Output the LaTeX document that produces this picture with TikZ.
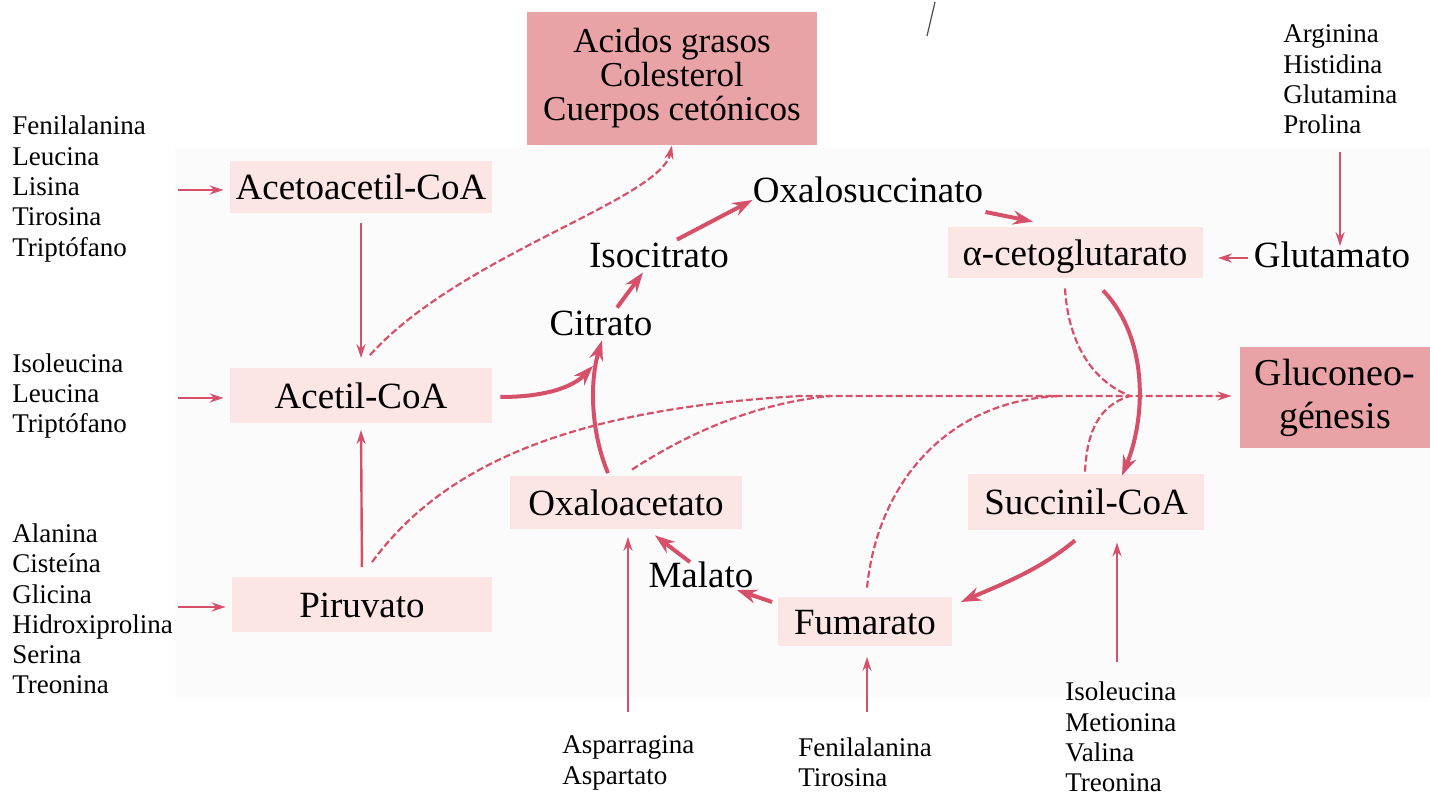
\documentclass[tikz,border=0pt]{standalone}
\usepackage{fontspec}
\setmainfont{Liberation Serif}
\usetikzlibrary{arrows.meta,calc}
\definecolor{arr}{HTML}{D6506A}
\definecolor{boxlight}{HTML}{FBE6E5}
\definecolor{boxdeep}{HTML}{E9A3A6}
\definecolor{panel}{HTML}{FCFBFB}
\begin{document}
\begin{tikzpicture}[x=0.5pt,y=-0.5pt,
  big/.style={font=\fontsize{18.5}{20}\selectfont, inner sep=0pt, text height=12.5pt, text depth=0pt},
  lbox/.style={big, fill=boxlight},
  dbox/.style={fill=boxdeep, align=center, inner sep=0pt},
  small/.style={font=\fontsize{13.5}{15.15}\selectfont, align=left, inner sep=0pt},
  thinarrow/.style={draw=arr, line width=1.2pt, -{Stealth[length=7pt,width=4.5pt]}},
  thickarrow/.style={draw=arr, line width=2pt, -{Stealth[length=10pt,width=7pt]}},
  dashline/.style={draw=arr, line width=1.1pt, dash pattern=on 3.5pt off 1.5pt},
  dasharrow/.style={dashline, -{Stealth[length=7pt,width=4.5pt]}},
]
\useasboundingbox (0,0) rectangle (1430,795);
\fill[white] (0,0) rectangle (1430,795);
\fill[panel] (175,148) rectangle (1430,697);
\draw[line width=0.6pt, black!70] (935,2) -- (927,36);

% boxes
\node[lbox, minimum width=131pt, minimum height=26pt] (aceto) at (361,187) {Acetoacetil-CoA};
\node[lbox, minimum width=131pt, minimum height=27.5pt] (acetil) at (361,396) {Acetil-CoA};
\node[lbox, minimum width=130pt, minimum height=27.5pt] (piru) at (362,605) {Piruvato};
\node[lbox, minimum width=116pt, minimum height=26.5pt] (oxalo) at (626,503) {Oxaloacetato};
\node[lbox, minimum width=118pt, minimum height=28pt] (succ) at (1086,502) {Succinil-CoA};
\node[lbox, minimum width=127.5pt, minimum height=25.5pt] (akg) at (1075,253) {α-cetoglutarato};
\node[lbox, minimum width=87pt, minimum height=24.5pt] (fuma) at (865,622) {Fumarato};
\node[dbox, minimum width=145pt, minimum height=66.5pt, font=\fontsize{17.5}{17}\selectfont] (lip) at (672,78.5) {Acidos grasos\\Colesterol\\Cuerpos cetónicos};
\node[dbox, minimum width=95pt, minimum height=50.5pt, font=\fontsize{19}{21.5}\selectfont] (gluco) at (1335,397.5) {Gluconeo-\\génesis};

% plain words
\node[big] (isoc) at (659,255) {Isocitrato};
\node[big] (citr) at (601,323) {Citrato};
\node[big] (oxsu) at (868,190) {Oxalosuccinato};
\node[big] (glut) at (1332,255) {Glutamato};
\node[big] (mala) at (701,575) {Malato};

% amino acid lists
\node[small, anchor=west] (g1) at (12,189) {Fenilalanina\\Leucina\\Lisina\\Tirosina\\Triptófano};
\node[small, anchor=west] (g2) at (12,396) {Isoleucina\\Leucina\\Triptófano};
\node[small, anchor=west] (g3) at (12,609) {Alanina\\Cisteína\\Glicina\\Hidroxiprolina\\Serina\\Treonina};
\node[small, anchor=west] (g4) at (1283,79.5) {Arginina\\Histidina\\Glutamina\\Prolina};
\node[small, anchor=west] (g5) at (562,763) {Asparragina\\Aspartato};
\node[small, anchor=west] (g6) at (798,762) {Fenilalanina\\Tirosina};
\node[small, anchor=west] (g7) at (1065,737) {Isoleucina\\Metionina\\Valina\\Treonina};

\coordinate (s1) at (178,190);
\coordinate (s2) at (178,398);
\coordinate (s3) at (178,607);
\coordinate (s4) at (1340,152);
\coordinate (s5) at (628,712);
\coordinate (s6) at (867,712);
\coordinate (s7) at (1117,662);
\coordinate (M) at (1130,396);

% input arrows
\draw[thinarrow, shorten >=3pt] (s1) -- (s1 -| aceto.west);
\draw[thinarrow, shorten >=3pt] (s2) -- (s2 -| acetil.west);
\draw[thinarrow, shorten >=3pt] (s3) -- (s3 -| piru.west);
\draw[thinarrow, shorten >=-2pt] (s4) -- (s4 |- glut.north);
\draw[thinarrow, shorten >=3.5pt] (s5) -- (s5 |- oxalo.south);
\draw[thinarrow, shorten >=5pt] (s6) -- (s6 |- fuma.south);
\draw[thinarrow, shorten >=6pt] (s7) -- (s7 |- succ.south);

% left column
\draw[thinarrow, shorten <=5pt, shorten >=5pt] (aceto.south) -- (acetil.north);
\draw[thinarrow, shorten <=5pt, shorten >=3pt] (piru.north) -- (acetil.south);
\draw[dasharrow] ($(acetil.north)+(9,-13)$) .. controls (460,255) and (660,200) .. (lip.south);

% cycle
\draw[thickarrow] ($(acetil.east)+(8,1)$) .. controls (550,397) and (575,385) .. ($(citr.south)+(-8,30)$);
\draw[thickarrow] ($(oxalo.north)+(-18,-3)$) .. controls (590,430) and (590,380) .. ($(citr.south)+(1,4.5)$);
\draw[thickarrow] ($(citr.north)+(16,-2.5)$) -- ($(isoc.south)+(-16,4.5)$);
\draw[thickarrow] ($(isoc.north)+(18,-2.5)$) -- ($(oxsu.west)+(0,10)$);
\draw[thickarrow] ($(oxsu.east)+(2,22)$) -- ($(akg.north)+(-42,-5.5)$);
\draw[thinarrow] ($(glut.west)+(-6,3)$) -- ($(akg.east)+(15,5)$);
\draw[thickarrow] ($(akg.south)+(28,11.5)$) .. controls (1150,340) and (1145,420) .. ($(succ.north)+(36,2)$);
\draw[thickarrow] ($(succ.south)+(-11,10)$) .. controls (1040,570) and (1000,585) .. ($(fuma.east)+(8.5,-20)$);
\draw[thickarrow] ($(fuma.west)+(-5.5,-20)$) -- ($(mala.east)+(-17,15)$);
\draw[thickarrow] ($(mala.north)+(-11,0)$) -- ($(oxalo.south)+(29,5.5)$);

% gluconeogenesis
\draw[dasharrow, shorten >=4pt] ($(piru.north)+(10,-15)$) .. controls (440,470) and (560,410) .. (800,396) -- (M -| gluco.west);
\draw[dashline] ($(oxalo.north)+(6,-6.5)$) .. controls (670,445) and (740,405) .. (830,396);
\draw[dashline] ($(fuma.north)+(2,-9.5)$) .. controls (878,480) and (950,400) .. (1060,396);
\draw[dashline] ($(akg.south)+(-10,9.5)$) .. controls (1068,340) and (1090,380) .. (M);
\draw[dashline] ($(succ.north)+(-1,-2)$) .. controls (1087,430) and (1100,405) .. (M);
\end{tikzpicture}
\end{document}
